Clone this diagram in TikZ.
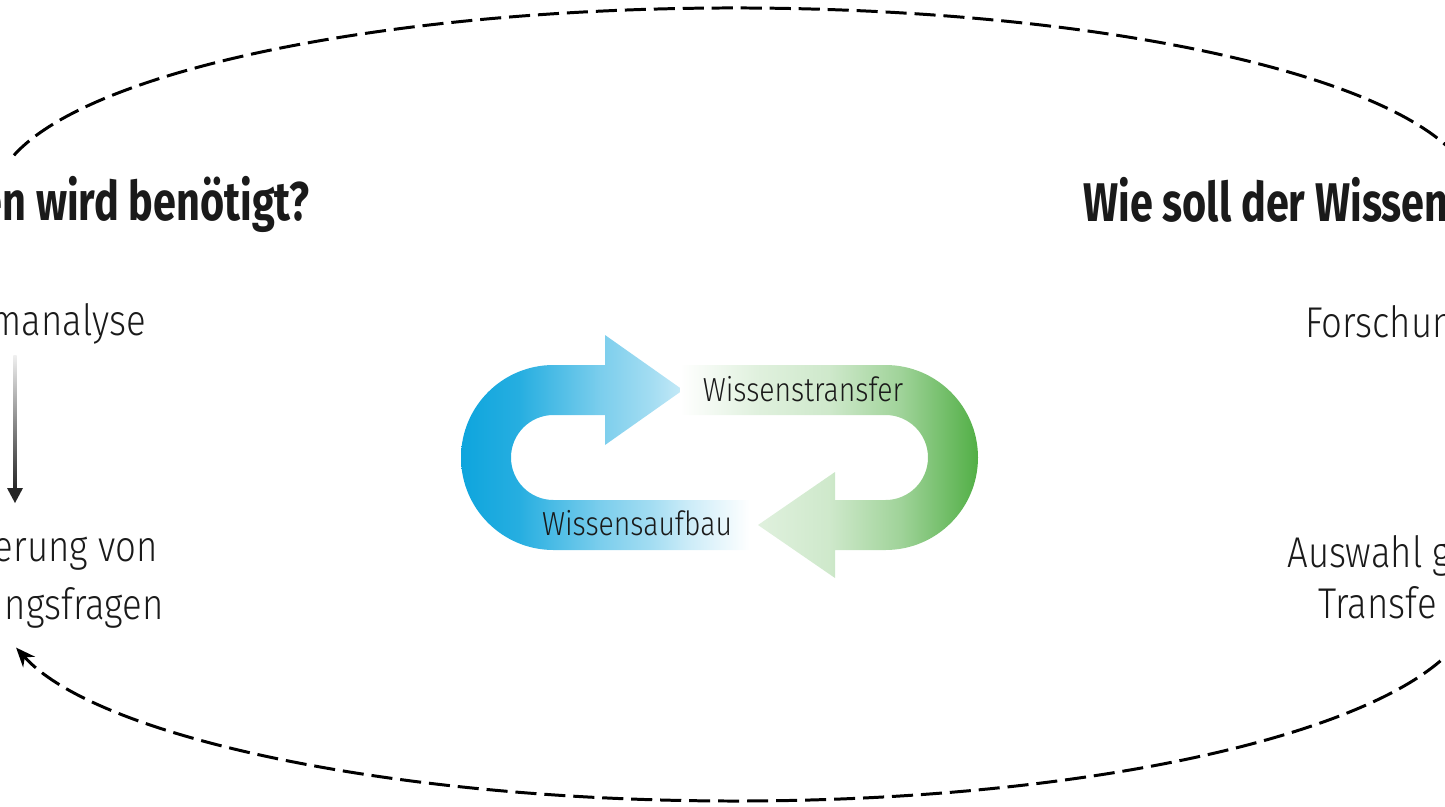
\documentclass[tikz,border=0pt]{standalone}
\usepackage{fontspec}
\setmainfont{Fira Sans Light}[FakeStretch=0.85]
\newfontfamily\headfont{Fira Sans Bold}[FakeStretch=0.76]
\usetikzlibrary{arrows.meta,calc}

\definecolor{flowblue}{HTML}{0EA5DD}
\definecolor{flowgreen}{HTML}{52AF46}
\definecolor{inkgrey}{HTML}{1A1A1A}

\pgfdeclarehorizontalshading{bluefade}{100bp}{color(0bp)=(flowblue); color(25bp)=(flowblue);
	color(35bp)=(flowblue!90!white); color(49bp)=(flowblue!55!white);
	color(58bp)=(flowblue!38!white); color(64bp)=(flowblue!22!white);
	color(75bp)=(white); color(100bp)=(white)}
\pgfdeclarehorizontalshading{greenfade}{100bp}{color(0bp)=(white); color(25bp)=(white);
	color(38bp)=(flowgreen!18!white); color(50bp)=(flowgreen!28!white);
	color(62bp)=(flowgreen!55!white); color(75bp)=(flowgreen); color(100bp)=(flowgreen)}

\begin{document}
\begin{tikzpicture}
	[x=0.02cm,y=-0.02cm,
	every node/.style={inner sep=0pt,text=inkgrey},
	headtxt/.style={font=\headfont\fontsize{31}{36}\selectfont},
	bodytxt/.style={font=\fontsize{24.5}{29}\selectfont},
	flowtxt/.style={font=\fontsize{19}{23}\selectfont},
	loopline/.style={line width=1.7pt,dash pattern=on 12pt off 4.5pt}]
	\useasboundingbox (0,0) rectangle (1445,806);
	\clip (0,0) rectangle (1445,806);
	
	% left column
	\node[headtxt,anchor=base east] (needhead) at (310,220) {en wird benötigt?};
	\node[bodytxt,anchor=base east] (probtxt) at (146,335) {manalyse};
	\node[bodytxt,anchor=base east] (questa) at (158,561) {erung von};
	\node[bodytxt,anchor=base east] (questb) at (164,619) {ngsfragen};
	
	% right column
	\node[headtxt,anchor=base west] (howhead) at (1083,221) {Wie soll der Wissen};
	\node[bodytxt,anchor=base west] (forschtxt) at (1305,337) {Forschun};
	\node[bodytxt,anchor=base west] (forma) at (1287,567) {Auswahl g};
	\node[bodytxt,anchor=base west] (formb) at (1318,618) {Transfe};
	
	% gradient arrow between the left texts
	\coordinate (pa) at (15,355);
	\coordinate (pb) at (15,503);
	\shade[top color=black!6,bottom color=black!85] ($(pa)+(-1.6,0)$) rectangle ($(pb)+(1.6,-14)$);
	\fill[black!85] ($(pb)+(-8,-15)$) -- ($(pb)+(8,-15)$) -- (pb) -- cycle;
	
	% blue loop arrow
	\shade[shading=bluefade] (750,550) -- (553.5,550)
		arc[start angle=90,end angle=270,radius=92.5]
		-- (605,365) -- (605,335) -- (683,390) -- (605,445) -- (605,415) -- (553.5,415)
		arc[start angle=270,end angle=90,radius=42.5]
		-- (750,500) -- cycle;
	
	% green loop arrow
	\shade[shading=greenfade] (680,365) -- (885.5,365)
		arc[start angle=270,end angle=450,radius=92.5]
		-- (835,550) -- (835,578) -- (758,525) -- (835,472) -- (835,500) -- (885.5,500)
		arc[start angle=90,end angle=-90,radius=42.5]
		-- (680,415) -- cycle;
	
	\node[flowtxt,anchor=base] (transfer) at (803,401) {Wissenstransfer};
	\node[flowtxt,anchor=base] (aufbau) at (637,535) {Wissensaufbau};
	
	% dashed outer loop
	\coordinate (topc) at (735,198);
	\coordinate (botc) at (735,600);
	\coordinate (topstart) at ($(topc)+(-167:740 and 190)$);
	\coordinate (botstart) at ($(botc)+(4:740 and 201)$);
	\draw[loopline] (topstart) arc[start angle=-167,end angle=-2,x radius=740,y radius=190];
	\draw[loopline,-{Stealth[length=11pt,width=9pt]}] (botstart)
		arc[start angle=4,end angle=166.3,x radius=740,y radius=201];
\end{tikzpicture}
\end{document}
